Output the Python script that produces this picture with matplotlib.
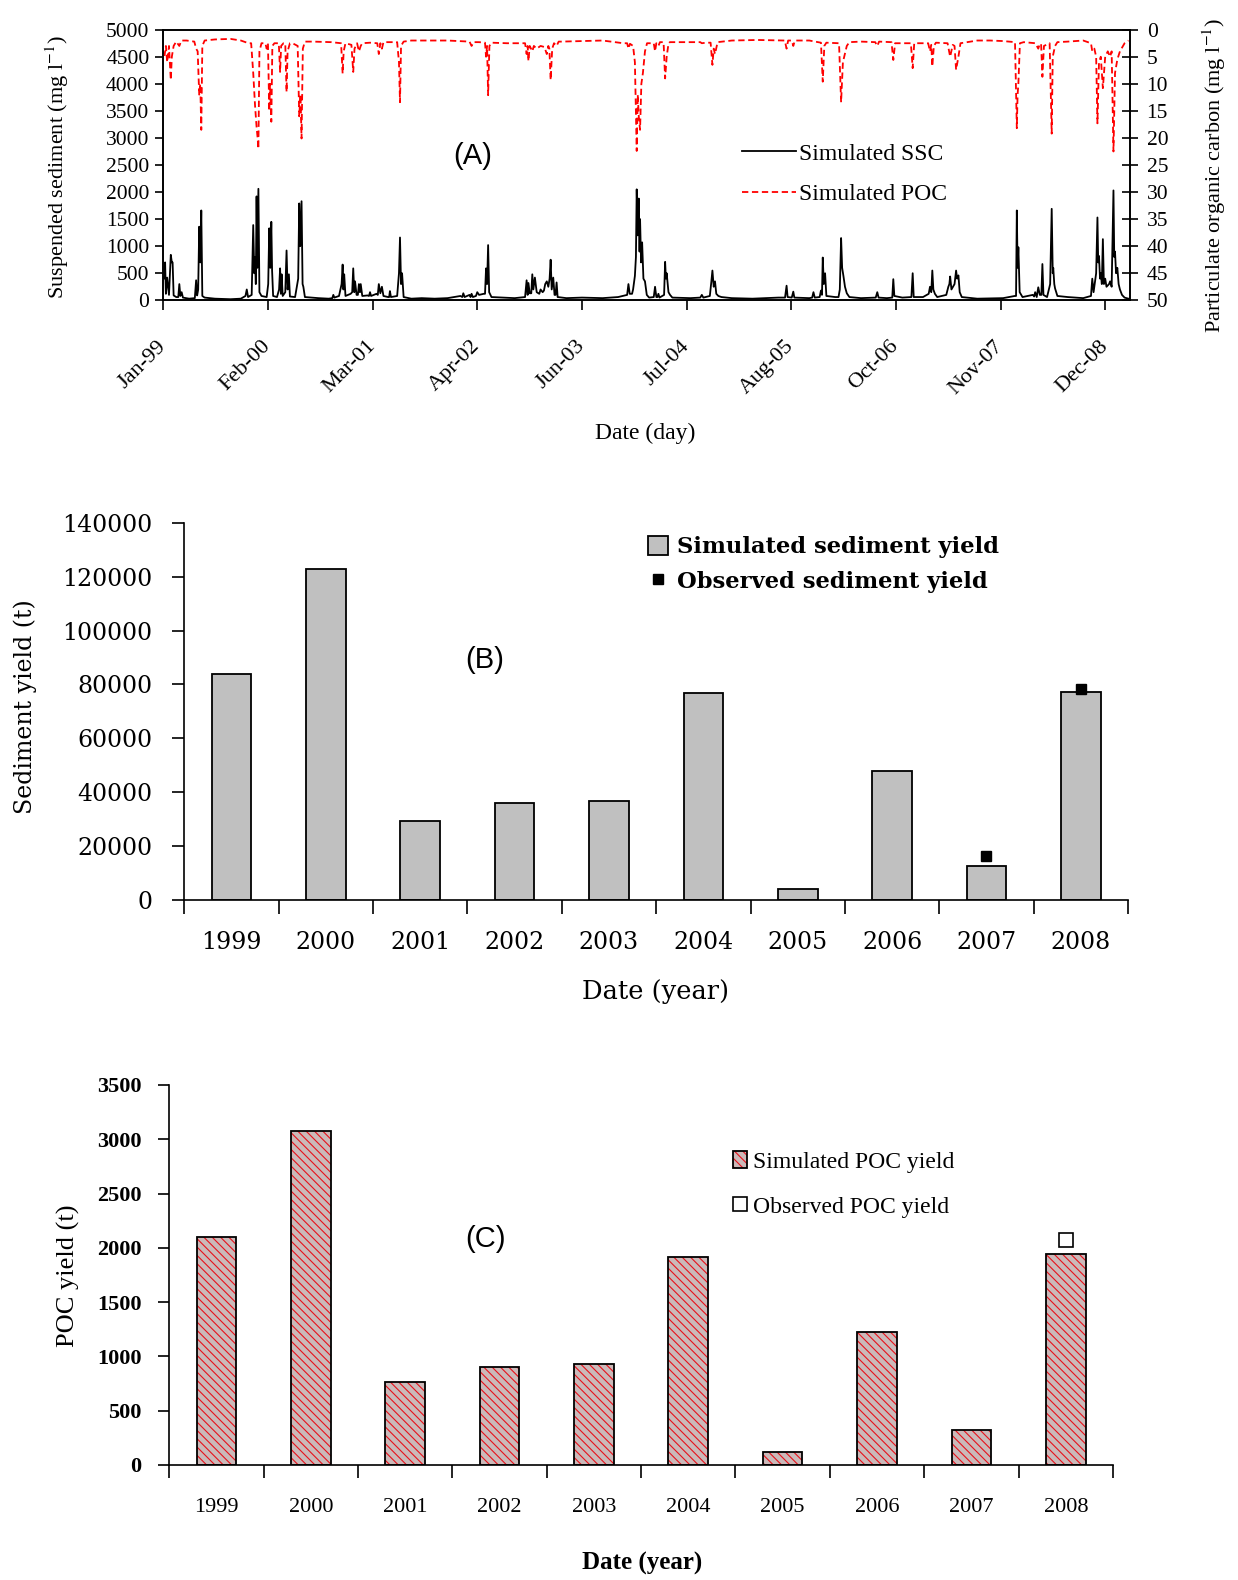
import datetime as dt
import numpy as np
import matplotlib
matplotlib.use("Agg")
import matplotlib.pyplot as plt

# ---------------- data ----------------
# panel A: daily simulated SSC (mg/l) read as (day since 1999-01-01, value)
ssc_points = [
    (0, 420), (3, 400), (7, 700), (10, 120), (15, 420), (22, 100), (29, 840), (33, 700), (36, 700),
    (40, 90), (50, 60), (58, 60), (62, 300), (66, 80), (71, 150), (76, 50), (100, 30), (122, 40),
    (127, 370), (131, 90), (135, 200), (139, 1360), (143, 700), (147, 1660), (151, 80), (160, 50),
    (200, 30), (260, 20), (300, 30), (318, 80), (323, 200), (328, 60), (342, 100), (348, 1390),
    (352, 500), (355, 800), (358, 300), (361, 1920), (364, 600), (368, 2060), (372, 150), (380, 80),
    (400, 60), (406, 300), (410, 1330), (414, 600), (418, 1450), (421, 550), (425, 80), (440, 60),
    (448, 200), (452, 590), (455, 120), (458, 480), (462, 80), (472, 150), (477, 920), (481, 200),
    (486, 480), (490, 70), (510, 60), (522, 400), (526, 1790), (530, 1000), (535, 1830), (539, 300),
    (542, 250), (548, 60), (600, 40), (640, 30), (654, 40), (658, 100), (662, 50), (680, 80),
    (690, 300), (694, 660), (697, 200), (700, 480), (705, 80), (725, 120), (731, 150), (735, 590),
    (739, 150), (742, 350), (748, 100), (753, 100), (757, 300), (761, 150), (764, 300), (770, 80),
    (790, 90), (796, 80), (800, 150), (804, 80), (825, 120), (830, 100), (834, 300), (840, 130),
    (846, 250), (852, 80), (870, 60), (874, 60), (877, 170), (881, 60), (905, 80), (912, 500),
    (916, 1160), (920, 300), (924, 500), (930, 60), (960, 30), (1000, 40), (1050, 30), (1100, 40),
    (1150, 80), (1157, 60), (1161, 130), (1166, 60), (1185, 100), (1189, 60), (1193, 120),
    (1198, 60), (1210, 80), (1215, 150), (1222, 100), (1240, 120), (1245, 120), (1249, 590),
    (1253, 300), (1257, 1020), (1261, 150), (1270, 60), (1320, 50), (1360, 40), (1400, 60),
    (1406, 370), (1410, 100), (1413, 320), (1418, 130), (1424, 130), (1428, 480), (1432, 200),
    (1438, 420), (1445, 150), (1455, 120), (1460, 200), (1468, 150), (1473, 180), (1478, 300),
    (1484, 350), (1490, 250), (1495, 400), (1499, 750), (1503, 200), (1509, 420), (1514, 100),
    (1518, 100), (1522, 330), (1526, 60), (1560, 40), (1620, 50), (1700, 40), (1760, 60),
    (1795, 100), (1800, 300), (1805, 120), (1814, 120), (1818, 200), (1825, 450), (1829, 800),
    (1832, 2050), (1836, 1200), (1840, 1880), (1843, 900), (1845, 1500), (1849, 700), (1853, 1070),
    (1858, 400), (1864, 350), (1871, 100), (1880, 50), (1898, 60), (1903, 250), (1908, 60),
    (1912, 60), (1916, 120), (1920, 50), (1938, 100), (1942, 710), (1945, 400), (1948, 500),
    (1955, 150), (1961, 100), (1970, 50), (2040, 40), (2078, 50), (2084, 100), (2090, 50),
    (2115, 80), (2121, 350), (2125, 550), (2130, 250), (2135, 350), (2140, 120), (2148, 80),
    (2160, 60), (2200, 40), (2280, 30), (2380, 50), (2406, 50), (2412, 270), (2416, 60),
    (2432, 50), (2438, 160), (2442, 50), (2500, 40), (2511, 50), (2516, 150), (2521, 50),
    (2540, 60), (2545, 180), (2549, 100), (2552, 790), (2556, 300), (2561, 500), (2566, 80),
    (2600, 60), (2613, 60), (2618, 200), (2623, 1150), (2627, 600), (2632, 450), (2638, 250),
    (2645, 130), (2655, 60), (2700, 40), (2757, 50), (2763, 150), (2768, 50), (2800, 40),
    (2821, 50), (2825, 390), (2829, 80), (2860, 50), (2895, 60), (2900, 500), (2904, 60),
    (2940, 60), (2962, 120), (2967, 250), (2972, 150), (2976, 550), (2980, 200), (2986, 120),
    (2995, 60), (3030, 100), (3038, 250), (3042, 300), (3045, 440), (3050, 200), (3062, 300),
    (3068, 550), (3072, 400), (3077, 460), (3082, 150), (3090, 60), (3150, 30), (3250, 40),
    (3295, 80), (3300, 80), (3303, 1660), (3306, 600), (3309, 980), (3314, 150), (3325, 60),
    (3365, 100), (3370, 70), (3374, 150), (3380, 60), (3386, 240), (3392, 100), (3398, 100),
    (3402, 670), (3406, 100), (3420, 60), (3432, 300), (3438, 1690), (3442, 500), (3444, 600),
    (3448, 300), (3451, 220), (3460, 80), (3500, 60), (3560, 40), (3590, 80), (3595, 400),
    (3600, 150), (3610, 500), (3615, 1530), (3618, 700), (3621, 820), (3625, 400), (3628, 500),
    (3632, 300), (3636, 1130), (3640, 300), (3645, 400), (3650, 250), (3660, 300), (3664, 350),
    (3670, 250), (3677, 2030), (3680, 800), (3683, 900), (3687, 500), (3692, 600), (3697, 300),
    (3702, 200), (3710, 100), (3720, 50), (3735, 30),
]

# panel A: daily simulated POC (mg/l), right axis (inverted)
poc_points = [
    (0, 4.5), (5, 4.7), (10, 3.0), (15, 6.0), (22, 3.0), (29, 9.3), (33, 5.0), (40, 3.0),
    (50, 2.2), (62, 3.0), (70, 2.0), (90, 2.0), (120, 2.2), (127, 3.5), (133, 4.0), (139, 12.0),
    (143, 10.0), (147, 18.5), (151, 3.0), (160, 2.0), (200, 1.8), (260, 1.7), (300, 2.0),
    (330, 2.5), (340, 2.5), (348, 8.0), (355, 14.0), (361, 18.0), (365, 20.0), (368, 22.0),
    (372, 4.0), (380, 2.5), (395, 2.5), (400, 3.5), (405, 2.5), (410, 15.0), (413, 10.0),
    (418, 17.0), (422, 3.0), (430, 2.5), (440, 2.5), (447, 2.5), (452, 7.8), (456, 3.0),
    (465, 2.5), (472, 2.5), (477, 11.5), (481, 4.0), (490, 2.5), (500, 2.5), (520, 3.0),
    (526, 16.0), (531, 12.0), (535, 20.1), (540, 3.5), (548, 2.2), (580, 2.2), (650, 2.3),
    (688, 2.5), (694, 8.1), (698, 4.0), (705, 2.5), (728, 2.8), (735, 7.8), (740, 3.5),
    (750, 2.5), (757, 4.0), (764, 3.0), (770, 2.5), (800, 2.4), (828, 2.5), (834, 4.5),
    (840, 2.5), (846, 3.5), (852, 2.3), (860, 2.3), (905, 2.3), (912, 6.0), (916, 13.4),
    (920, 3.0), (930, 2.2), (960, 2.0), (1100, 2.0), (1185, 2.2), (1193, 3.0), (1200, 2.3),
    (1222, 2.3), (1245, 2.4), (1249, 5.0), (1253, 3.0), (1257, 12.1), (1262, 3.0), (1270, 2.4),
    (1330, 2.5), (1400, 2.5), (1406, 4.5), (1410, 3.0), (1413, 5.8), (1418, 3.0), (1428, 4.0),
    (1434, 3.0), (1445, 3.5), (1460, 3.0), (1475, 3.2), (1484, 4.5), (1490, 3.0), (1494, 3.5),
    (1499, 9.3), (1505, 3.5), (1512, 2.5), (1522, 3.0), (1530, 2.2), (1540, 2.2), (1700, 2.0),
    (1780, 2.5), (1795, 2.5), (1800, 3.5), (1806, 2.6), (1818, 3.0), (1825, 6.0), (1832, 22.4),
    (1836, 12.0), (1840, 16.0), (1845, 18.5), (1850, 10.0), (1856, 8.0), (1864, 4.0),
    (1872, 2.5), (1880, 2.5), (1898, 2.5), (1903, 4.0), (1908, 2.5), (1916, 3.0), (1922, 2.3),
    (1936, 2.3), (1942, 9.0), (1948, 5.0), (1955, 2.6), (1960, 2.3), (2078, 2.3), (2084, 2.5),
    (2100, 2.4), (2118, 2.4), (2125, 6.5), (2130, 3.5), (2135, 4.5), (2145, 2.3), (2200, 2.0),
    (2300, 1.9), (2405, 2.0), (2412, 3.5), (2418, 2.0), (2432, 2.0), (2438, 3.0), (2444, 2.0),
    (2500, 2.0), (2545, 2.4), (2552, 9.6), (2558, 3.0), (2566, 2.4), (2615, 2.5), (2623, 13.4),
    (2630, 6.0), (2645, 3.0), (2655, 2.3), (2700, 2.2), (2755, 2.3), (2763, 3.0), (2770, 2.2),
    (2818, 2.3), (2825, 5.6), (2832, 2.5), (2893, 2.5), (2900, 7.1), (2906, 2.5), (2960, 2.5),
    (2967, 4.0), (2972, 2.8), (2976, 6.8), (2982, 3.0), (2990, 2.4), (3035, 2.5), (3045, 5.0),
    (3055, 2.8), (3062, 3.0), (3068, 7.4), (3077, 5.0), (3085, 2.5), (3150, 2.0), (3200, 2.0),
    (3250, 2.1), (3296, 2.3), (3303, 18.2), (3306, 12.0), (3309, 10.0), (3315, 2.5), (3330, 2.3),
    (3375, 2.5), (3386, 3.5), (3392, 2.6), (3397, 2.6), (3402, 8.7), (3408, 3.0), (3430, 2.5),
    (3438, 19.2), (3442, 5.0), (3451, 3.0), (3460, 2.3), (3500, 2.2), (3560, 2.0), (3590, 2.5),
    (3595, 4.0), (3603, 3.5), (3610, 5.0), (3615, 17.3), (3621, 6.0), (3628, 5.0), (3636, 10.8),
    (3645, 5.0), (3655, 4.0), (3664, 5.0), (3670, 4.0), (3677, 22.5), (3683, 8.0), (3692, 5.5),
    (3702, 4.0), (3720, 2.5), (3735, 2.0),
]

start_date = dt.date(1999, 1, 1)
date_tick_step = 405  # days between date ticks
n_date_ticks = 10
day_max = 3741

# panels B and C: annual yields (t)
years = ["1999", "2000", "2001", "2002", "2003", "2004", "2005", "2006", "2007", "2008"]
sed_sim = [84000, 122700, 29300, 36000, 36600, 76900, 4000, 48000, 12600, 77300]
sed_obs_years = ["2007", "2008"]
sed_obs = [16300, 78200]
poc_sim = [2100, 3080, 760, 900, 930, 1920, 117, 1222, 319, 1940]
poc_obs_years = ["2008"]
poc_obs = [2070]

# ---------------- figure ----------------
W, H = 1238, 1580
plt.rcParams["font.family"] = "Liberation Serif"
plt.rcParams["mathtext.fontset"] = "stix"
plt.rcParams["hatch.linewidth"] = 0.8

fig = plt.figure(figsize=(W / 100, H / 100), dpi=100)


def box(l, t, r, b):
    return [l / W, 1 - b / H, (r - l) / W, (b - t) / H]


def ftext(x, y, s, **kw):
    kw.setdefault("ha", "center")
    kw.setdefault("va", "center")
    return fig.text(x / W, 1 - y / H, s, **kw)


# ---- panel A ----
axa = fig.add_axes(box(163.3, 29.7, 1130, 300.3))
ssc_day, ssc_val = zip(*ssc_points)
poc_day, poc_val = zip(*poc_points)
ln_ssc, = axa.plot(ssc_day, ssc_val, color="black", lw=1.3)
axa.set_xlim(0, day_max)
axa.set_ylim(0, 5000)
axa.set_yticks(range(0, 5001, 500), [str(v) for v in range(0, 5001, 500)], fontsize=15.5)
date_ticks = [i * date_tick_step for i in range(n_date_ticks)]
date_labels = [(start_date + dt.timedelta(days=d)).strftime("%b-%y") for d in date_ticks]
axa.set_xticks(date_ticks, date_labels, rotation=45, ha="right", va="center",
               rotation_mode="anchor", fontsize=16)
axa.tick_params(axis="x", direction="out", length=7, width=1.2, pad=24)
axa.tick_params(axis="y", direction="out", length=6, width=1.2, pad=4)

ax2 = axa.twinx()
ln_poc, = ax2.plot(poc_day, poc_val, color="red", lw=1.3, ls=(0, (3.5, 2)))
ax2.set_ylim(50, 0)
ax2.set_yticks(range(0, 51, 5), [str(v) for v in range(0, 51, 5)], fontsize=15.5)
ax2.tick_params(axis="y", direction="inout", length=12, width=1.2, pad=6)
for a in (axa, ax2):
    for s in a.spines.values():
        s.set_linewidth(1.2)

ax2.legend([ln_ssc, ln_poc], ["Simulated SSC", "Simulated POC"], loc="upper left",
           bbox_to_anchor=(742 / W, 1 - 143 / H), bbox_transform=fig.transFigure,
           frameon=False, fontsize=17, handlelength=2.3, handletextpad=0.1,
           labelspacing=0.8, borderpad=0, borderaxespad=0)

ftext(473, 156, "(A)", family="Liberation Sans", fontsize=21)
ftext(57, 167, r"Suspended sediment (mg l$^{-1}$)", rotation=90, fontsize=16)
ftext(1214, 176, r"Particulate organic carbon (mg l$^{-1}$)", rotation=90, fontsize=16)
ftext(645, 433, "Date (day)", fontsize=17)

# ---- panel B ----
dvs = "DejaVu Serif"
x = np.arange(len(years))
axb = fig.add_axes(box(184.3, 522.7, 1128, 900))
bars_b = axb.bar(x, sed_sim, width=0.42, color="#c0c0c0", edgecolor="black", lw=1.3)
obs_b = axb.plot([years.index(y) for y in sed_obs_years], sed_obs, ls="none", marker="s",
                 ms=7, color="black")[0]
axb.set_xlim(-0.5, 9.5)
axb.set_ylim(0, 140000)
axb.set_xticks(np.arange(-0.5, 10, 1), [""] * 11)
axb.set_xticks(x, years, minor=True, fontfamily=dvs, fontsize=17)
axb.tick_params(axis="x", which="major", direction="out", length=10, width=1.2)
axb.tick_params(axis="x", which="minor", length=0, pad=22)
axb.set_yticks(range(0, 140001, 20000), [str(v) for v in range(0, 140001, 20000)],
               fontfamily=dvs, fontsize=17)
axb.tick_params(axis="y", direction="out", length=9, width=1.2, pad=14)
axb.spines[["top", "right"]].set_visible(False)
axb.spines[["left", "bottom"]].set_linewidth(1.2)
axb.legend([bars_b[0], obs_b], ["Simulated sediment yield", "Observed sediment yield"],
           loc="upper left", bbox_to_anchor=(648 / W, 1 - 536 / H),
           bbox_transform=fig.transFigure, frameon=False,
           prop={"family": dvs, "size": 16.3, "weight": "bold"},
           handlelength=0.9, handleheight=0.9, handletextpad=0.4, labelspacing=0.55,
           borderpad=0, borderaxespad=0)

ftext(485, 660, "(B)", family="Liberation Sans", fontsize=21)
ftext(25, 707, "Sediment yield (t)", rotation=90, family=dvs, fontsize=17)
ftext(655, 992, "Date (year)", family=dvs, fontsize=18.5)

# ---- panel C ----
axc = fig.add_axes(box(169.2, 1085, 1113, 1465))
bars_h = axc.bar(x, poc_sim, width=0.42, color="#cbb9b9", edgecolor="#e8101a", lw=0,
                 hatch="\\\\\\\\")
bars_o = axc.bar(x, poc_sim, width=0.42, fill=False, edgecolor="black", lw=1.3)
obs_c = axc.plot([years.index(y) for y in poc_obs_years], poc_obs, ls="none", marker="s",
                 ms=10, mfc="white", mec="black", mew=1.2)[0]
axc.set_xlim(-0.5, 9.5)
axc.set_ylim(0, 3500)
axc.set_xticks(np.arange(-0.5, 10, 1), [""] * 11)
axc.set_xticks(x, years, minor=True, fontsize=16)
axc.tick_params(axis="x", which="major", direction="out", length=9, width=1.2)
axc.tick_params(axis="x", which="minor", length=0, pad=24)
axc.set_yticks(range(0, 3501, 500), [str(v) for v in range(0, 3501, 500)],
               fontsize=16, fontweight="bold")
axc.tick_params(axis="y", direction="out", length=8, width=1.2, pad=12)
axc.spines[["top", "right"]].set_visible(False)
axc.spines[["left", "bottom"]].set_linewidth(1.2)
axc.legend([(bars_h[0], bars_o[0]), obs_c], ["Simulated POC yield", "Observed POC yield"],
           loc="upper left", bbox_to_anchor=(733 / W, 1 - 1151 / H),
           bbox_transform=fig.transFigure, frameon=False, fontsize=17,
           handlelength=0.6, handleheight=0.7, handletextpad=0.25, labelspacing=1.0,
           borderpad=0, borderaxespad=0)

ftext(486, 1239, "(C)", family="Liberation Sans", fontsize=21)
ftext(68, 1276, "POC yield (t)", rotation=90, fontsize=19)
ftext(642, 1563, "Date (year)", fontsize=18, fontweight="bold")

fig.savefig("out.png", dpi=100)
